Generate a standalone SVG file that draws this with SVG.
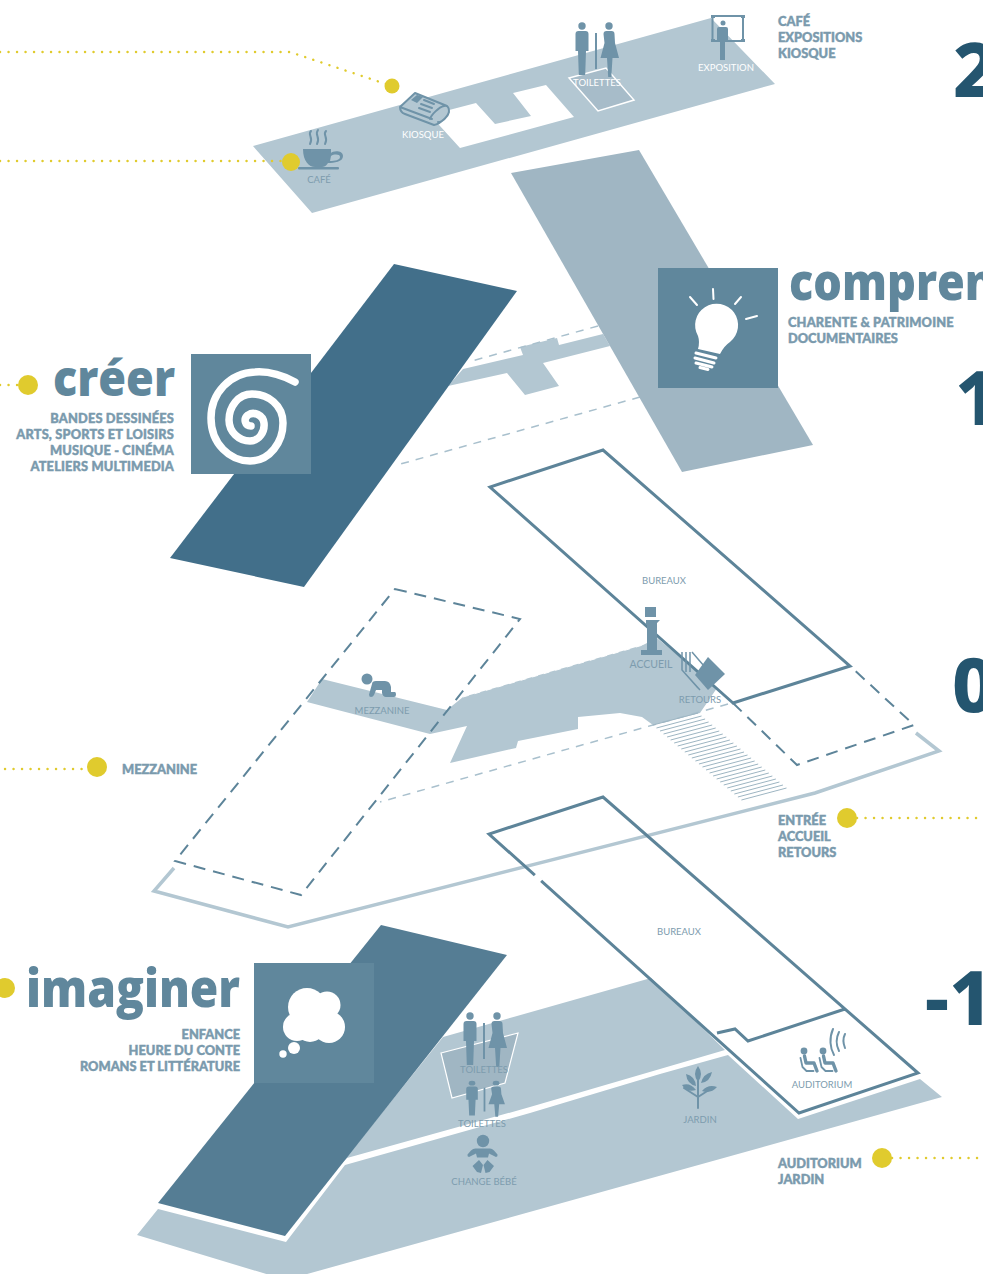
<svg xmlns="http://www.w3.org/2000/svg" width="983" height="1274" viewBox="0 0 983 1274">
<style>
.floor{fill:#b3c7d2}
.mid{fill:#a0b6c3}
.sq{fill:#60879c}
.ic{fill:#6f93a8}
.icl{fill:none;stroke:#6f93a8;stroke-width:2;stroke-linejoin:round;stroke-linecap:round}
.wh{fill:#fff}
.solid{fill:none;stroke:#5d8499;stroke-width:3}
.dash{fill:none;stroke:#5d8499;stroke-width:2;stroke-dasharray:12 8}
.ldash{fill:none;stroke:#a9c0cd;stroke-width:1.5;stroke-dasharray:8 7}
.dot{fill:none;stroke:#e0cb2e;stroke-width:2.4;stroke-linecap:round;stroke-dasharray:.1 8.4}
.yd{fill:#e0cb2e}
.lb{font-family:"Lato","Open Sans",sans-serif;font-size:9.5px;fill:#7d9cae;text-anchor:middle}
.lw{fill:#fff}
.h{font-family:"Open Sans","Noto Sans",sans-serif;font-weight:800;fill:#60879c}
.s{font-family:"Lato","Open Sans",sans-serif;font-weight:900;font-size:12.8px;fill:#7a9aad;stroke:#7a9aad;stroke-width:.45}
.w{letter-spacing:.16px}
.e{text-anchor:end}
.n{font-family:"Noto Sans","Open Sans",sans-serif;font-weight:800;font-size:75px;fill:#24556f}
</style>
<defs>
<g id="wc" class="ic">
<circle cx="7" cy="4" r="3.700"/>
<path d="M.5 12q0-3 3-3h7q3 0 3 3v17h-2.500l-.8 24h-6.400l-.8-24h-2.500z"/>
<rect x="20" y="11" width="2" height="36"/>
<circle cx="34" cy="4" r="3.700"/>
<path d="M28.500 12q0-3 3-3h5q3 0 3 3l.5 9 4 15h-6.500l-1.200 19h-3.100l-1.200-19h-6.500l4-15z"/>
</g>
</defs>

<g id="floor-top">
<path class="floor" d="M253 146L711 18 775 84 312 213ZM430 115L460 148 574 117 546 85 513 93 531 116 495 124 476 103Z" fill-rule="evenodd"/>
<path d="M569 78L606 68 634 100 598 111Z" fill="#a7bcc9" stroke="#fff" stroke-width="1.500"/>
</g>
<g id="floor-1">
<path class="floor" d="M448 386L463 369 523 355 520 347 557 338 559 345 603 334 610 346 543 363 559 386 525 395 507 373Z"/>
<path class="ldash" d="M598 326L468 362M640 397L397 465"/>
</g>
<g id="slab-comprendre"><path class="mid" d="M511 173L639 150 813 445 682 472Z"/></g>
<g id="slab-creer"><path fill="#426f8a" d="M394 264L517 291 304 587 170 558Z"/></g>

<g id="floor-m1">
<path class="floor" d="M340 1165L443 1037 651 978 725 1050 530 1107 347 1158Z"/>
<path class="floor" d="M137 1235L158 1209 286 1242 345 1165 530 1113 660 1074 728 1055 798 1119 920 1079 942 1097 300 1276 273 1276Z"/>
<path d="M441 1053L518 1033 505 1083 452 1098Z" fill="#a0b6c3" stroke="#fff" stroke-width="1.200"/>
</g>
<g id="slab-imaginer"><path fill="#557d94" d="M381 925L507 955 285 1236 158 1203Z"/></g>

<g id="floor-0">
<path class="floor" d="M447 710L463 697 643 645 657 638 717 688 700 713 653 725 642 717 620 713 578 717 578 729 518 741 516 748 450 763 467 726 430 734 307 702 322 679Z"/>
<path fill="none" stroke="#fff" stroke-width="1" stroke-dasharray="6 6" d="M463 697L643 645"/>
<path class="ldash" d="M728 704L653 725 380 802"/>
<path fill="none" stroke="#9db5c2" stroke-width="1" d="M653 725l45-12m-41.54 15l45.080-12m-41.540 15l45.080-12m-41.540 15l45.080-12m-41.540 15l45.080-12m-41.540 15l45.080-12m-41.540 15l45.080-12m-41.540 15l45.080-12m-41.540 15l45.080-12m-41.540 15l45.080-12m-41.540 15l45.080-12m-41.540 15l45.080-12m-41.540 15l45.080-12m-41.540 15l45.080-12m-41.540 15l45.080-12m-41.540 15l45.080-12m-41.540 15l45.080-12m-41.540 15l45.080-12m-41.540 15l45.080-12m-41.540 15l45.080-12m-41.540 15l45.080-12m-41.540 15l45.080-12m-41.540 15l45.080-12m-41.540 15l45.080-12m-41.540 15l45.080-12m-41.540 15l45.080-12"/>
<path fill="none" stroke="#b3c7d2" stroke-width="3.500" d="M174 868L154 891 288 927 815 793 939 751 916 733"/>
<path class="dash" d="M395 589L520 619 301 895 175 861Z"/>
<path class="dash" d="M733 703L797 765 914 725 850 666"/>
<path class="solid" d="M733 703L490 487 603 450 850 666Z"/>
</g>
<g id="bureaux-m1-outline">
<path class="solid" d="M603 797L489 834 799 1113 918 1073ZM717 1033L735 1029 748 1041 845 1009"/>
<path fill="none" stroke="#fff" stroke-width="4" d="M535 875L541 881"/>
</g>

<g id="connectors">
<path class="dot" d="M0 52L290 52 392 86"/>
<path class="dot" d="M0 161L285 161"/>
<path class="dot" d="M0 385L20 385"/>
<path class="dot" d="M5 769L88 769"/>
<path class="dot" d="M857 818L980 818"/>
<path class="dot" d="M892 1158L983 1158"/>
</g>

<g id="cafe">
<path class="ic" d="M303 149h28v4c2-2.500 12-3 12 3s-9 7-15 7c-2 3-4 4-6 4h-7c-6 0-12-6-12-18zM331 156l-1 5c5 0 10-1 10-4s-6-3-9-1z" fill-rule="evenodd"/>
<rect class="ic" x="298" y="167" width="41" height="2.500" rx="1"/>
<path class="icl" d="M311 131c-4 4 3 6-1 13M318 130c-4 5 3 7-1 14M326 131c-4 4 3 6-1 13"/>
<text class="lb" x="319" y="183">CAFÉ</text>
<circle class="yd" cx="291" cy="162" r="9"/>
</g>
<g id="kiosque">
<path class="floor" d="M400 107L415 93 447 106 449 111C449 116 440 124 434 125L405 114C402 113 400 110 400 107Z"/>
<path class="icl" d="M400 107L415 93 447 106M400 107c0 3 2 6 5 7l29 11c6-1 15-9 15-14 0-4-2-6-5-5-5 1-13 9-14 13M400 107l32 12M438 122c3 1 10-5 11-10"/>
<path class="ic" d="M411 100l6-5 6 2-6 6z"/>
<path class="icl" d="M424 100l10 4M421 104l11 4M419 108l11 4" stroke-width="1.200"/>
<text class="lb lw" x="423" y="138">KIOSQUE</text>
<circle class="yd" cx="392" cy="86" r="7.500"/>
</g>
<g id="toilettes-top">
<use href="#wc" x="575" y="22"/>
<text class="lb lw" x="597" y="86">TOILETTES</text>
</g>
<g id="exposition">
<path fill="none" stroke="#6f93a8" stroke-width="2" d="M712.500 16h30.500v25h-30.500z"/>
<path class="ic" d="M711 15h4v3h-4zM741 15h4v3h-4zM711 39h4v3h-4zM741 39h4v3h-4z"/>
<circle class="ic" cx="723" cy="23" r="2.500"/>
<path class="ic" d="M717 29q0-2 2-2h7q2 0 2 2v13h-3v18h-5v-18h-3z"/>
<text class="lb lw" x="726" y="71">EXPOSITION</text>
</g>
<g id="cafe-legend">
<text class="s" x="778" y="26">CAFÉ</text>
<text class="s" x="778" y="42">EXPOSITIONS</text>
<text class="s" x="778" y="58">KIOSQUE</text>
</g>

<g id="comprendre">
<rect class="sq" x="658" y="268" width="120" height="120"/>
<path class="wh" d="M698 336A21.500 21.500 0 1 1 730 342Q724 346 720 354L698 349Q700 342 698 336Z"/>
<path fill="none" stroke="#fff" stroke-width="2" stroke-linecap="round" d="M690 297L697 305M713 289L713.500 299M741 297L735 304M757 316L746 319"/>
<path fill="none" stroke="#fff" stroke-width="3" stroke-linecap="round" d="M696 353L716 358M695 358L714 363M696 363L712 367M700 367.500L708 369.500"/>
<text class="h" x="789" y="300" font-size="52" textLength="206" lengthAdjust="spacingAndGlyphs">compren</text>
<text class="s w" x="788" y="327">CHARENTE &amp; PATRIMOINE</text>
<text class="s" x="788" y="343">DOCUMENTAIRES</text>
</g>

<g id="creer">
<rect class="sq" x="191" y="354" width="120" height="120"/>
<path fill="none" stroke="#fff" stroke-width="7.500" stroke-linecap="round" d="M295 382C280 374 268 371 255 372C230 373 211 393 211 418C211 444 230 461 250 461C270 461 283 442 283 423C283 405 268 394 252 394C238 394 229 407 229 420C229 432 239 441 250 441C259 441 265 432 264 423C263 415 254 411 248 415C243 419 245 426 251 426"/>
<circle class="yd" cx="28" cy="385" r="10"/>
<text class="h" x="53" y="396" font-size="50" textLength="122" lengthAdjust="spacingAndGlyphs">créer</text>
<text class="s w e" x="174" y="423">BANDES DESSINÉES</text>
<text class="s w e" x="174" y="439">ARTS, SPORTS ET LOISIRS</text>
<text class="s w e" x="174" y="455">MUSIQUE - CINÉMA</text>
<text class="s w e" x="174" y="471">ATELIERS MULTIMEDIA</text>
</g>

<g id="bureaux-0"><text class="lb" x="664" y="584">BUREAUX</text></g>
<g id="accueil">
<path class="ic" d="M645 607h11v10h-11zM646 620h14l-3 3v27h5v5h-21v-5h6v-25h-1z"/>
<text class="lb" x="651" y="668" style="font-size:10.500px">ACCUEIL</text>
</g>
<g id="retours">
<path fill="none" stroke="#6f93a8" stroke-width="1.500" d="M682 652v18l16 18M686 652v20M690 652v20M692 652l12 14M682 670l18 20"/>
<path class="ic" d="M708 657L725 674 708 690 695 675Z"/>
<text class="lb" x="700" y="703">RETOURS</text>
</g>
<g id="mezzanine">
<circle class="ic" cx="367" cy="679" r="5.500"/>
<path class="ic" d="M372 684q0-3 4-3h9q5 0 6 6v5h4q1 0 1 2.500t-2 2.500h-8q-3 0-4-4v-3h-6l-2 5q-1 2-3 2t-2-2.500z"/>
<text class="lb" x="382" y="714">MEZZANINE</text>
<circle class="yd" cx="97" cy="767" r="10"/>
<text class="s" x="122" y="774">MEZZANINE</text>
</g>
<g id="entree">
<circle class="yd" cx="847" cy="818" r="10"/>
<text class="s" x="778" y="825">ENTRÉE</text>
<text class="s" x="778" y="841">ACCUEIL</text>
<text class="s" x="778" y="857">RETOURS</text>
</g>
<g id="bureaux-m1"><text class="lb" x="679" y="935">BUREAUX</text></g>

<g id="imaginer">
<rect class="sq" x="254" y="963" width="120" height="120"/>
<g class="wh">
<circle cx="307" cy="1007" r="19"/><circle cx="327" cy="1005" r="13.500"/><circle cx="297" cy="1027" r="14"/><circle cx="310" cy="1027" r="15"/><circle cx="329" cy="1027" r="16"/>
<circle cx="294" cy="1048" r="6"/><circle cx="283" cy="1054" r="3.700"/>
</g>
<circle class="yd" cx="5" cy="988" r="10"/>
<text class="h" x="26" y="1007" font-size="53" textLength="214" lengthAdjust="spacingAndGlyphs">imaginer</text>
<text class="s e" x="240" y="1039">ENFANCE</text>
<text class="s e" x="240" y="1055">HEURE DU CONTE</text>
<text class="s e" x="240" y="1071">ROMANS ET LITTÉRATURE</text>
</g>
<g id="toilettes-m1">
<use href="#wc" x="463" y="1012"/>
<text class="lb" x="484" y="1073">TOILETTES</text>
<use href="#wc" transform="translate(465.800 1080.500) scale(.89 .66)"/>
<text class="lb" x="482" y="1127">TOILETTES</text>
</g>
<g id="change-bebe">
<circle class="ic" cx="483" cy="1141" r="6.200"/>
<path class="ic" d="M476 1148.500h14q2 0 4 2l3.500 4q.5 2-1.500 2.500l-7-3.500-1 4h-11l-1-4-7 3.500q-2-.5-1.500-2.500l3.500-4q2-2 4.500-2z"/>
<path class="ic" d="M472.500 1166L479 1160 483 1165 481 1173 477 1172ZM494 1166L487.500 1160 483.500 1165 485.500 1173 489.500 1172Z"/>
<text class="lb" x="484" y="1185">CHANGE BÉBÉ</text>
</g>
<g id="jardin">
<path class="icl" d="M698 1108V1078M698 1097L684 1088M698 1097L712 1088" stroke-width="2.500"/>
<path class="ic" d="M698 1066q6 8 0 16q-6-8 0-16zM682 1085q8-3 14 5q-9 3-14-5zM717 1087q-9-3-15 4q9 3 15-4zM686 1074q9 2 10 12q-9-2-10-12zM712 1072q-9 2-11 11q9-1 11-11z"/>
<text class="lb" x="700" y="1123">JARDIN</text>
</g>
<g id="auditorium">
<circle class="ic" cx="804" cy="1051" r="3.400"/><circle class="ic" cx="823" cy="1051" r="3.400"/>
<path class="icl" style="stroke-width:3.400" d="M804.500 1056l1.500 7h8l3 8M823.500 1056l1.500 7h8l3 8"/>
<path class="icl" style="stroke-width:1.800" d="M800.500 1058l2 9 4 4h7M819.500 1058l2 9 4 4h7"/>
<path fill="none" stroke="#6f93a8" stroke-width="2" stroke-linecap="round" d="M833 1029c-4 9-3 19 1 26M839 1032c-3 6-3 13 0 19M845 1034c-2 4-2 9 0 14"/>
<text class="lb" x="822" y="1088">AUDITORIUM</text>
</g>
<g id="auditorium-legend">
<circle class="yd" cx="882" cy="1158" r="10"/>
<text class="s" x="778" y="1168">AUDITORIUM</text>
<text class="s" x="778" y="1184">JARDIN</text>
</g>

<g id="niveaux">
<text class="n" x="953" y="97">2</text>
<text class="n" x="955" y="425">1</text>
<text class="n" x="952" y="712">0</text>
<text class="n" x="925" y="1025">-1</text>
</g>
</svg>
